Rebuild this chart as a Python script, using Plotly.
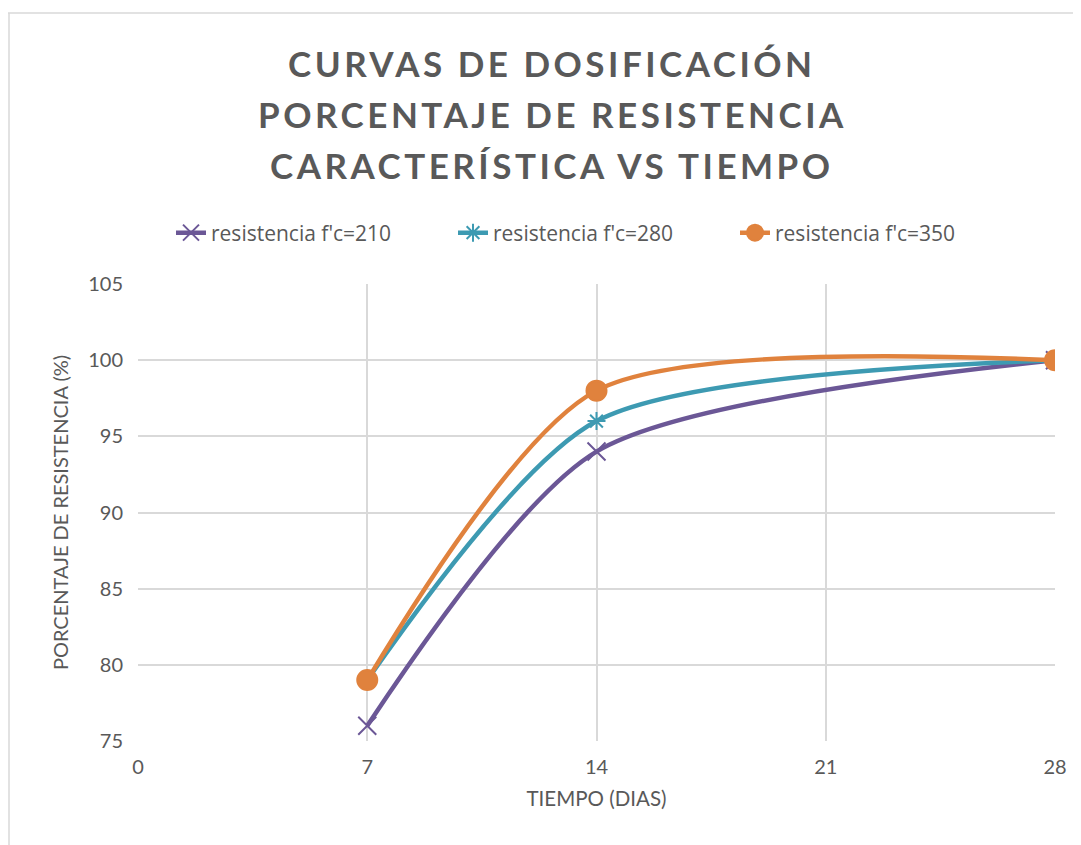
import plotly.graph_objects as go

dias = [7, 14, 28]
r210 = [76, 94, 100]
r280 = [79, 96, 100]
r350 = [79, 98, 100]
x_ticks = [0, 7, 14, 21, 28]
y_ticks = [75, 80, 85, 90, 95, 100, 105]
title_lines = ["CURVAS DE DOSIFICACIÓN", "PORCENTAJE DE RESISTENCIA",
               "CARACTERÍSTICA VS TIEMPO"]

# page body has an 8px margin, so figure coords = screen coords - 8
OFF = 8
W, H = 1081 - OFF, 845 - OFF
L, R, T, B = 138 - OFF, 1081 - 1055, 284 - OFF, 845 - 741
pw, ph = W - L - R, H - T - B

FONT = "Lato, Open Sans, sans-serif"
GRAY = "#595959"

def px_x(sx):
    return (sx - OFF - L) / pw

def px_y(sy):
    return 1 + (T - (sy - OFF)) / ph

fig = go.Figure()
series = [
    ("resistencia f'c=210", r210, "#6B5796", "x-thin", 18),
    ("resistencia f'c=280", r280, "#3D9AB2", "asterisk", 15),
    ("resistencia f'c=350", r350, "#E0823D", "circle", 20),
]
for name, vals, col, sym, sz in series:
    fig.add_trace(go.Scatter(
        x=dias, y=vals, name=name, mode="lines+markers",
        line=dict(color=col, width=4.5, shape="spline", smoothing=0.75),
        marker=dict(symbol=sym, size=sz, color=col, line=dict(color=col, width=2)),
    ))

for i, (line, sy) in enumerate(zip(title_lines, [63, 114, 165])):
    fig.add_annotation(
        text='<span style="letter-spacing:3.5px">' + line + '</span>',
        xref="paper", yref="paper", x=px_x(552), y=px_y(sy),
        xanchor="center", yanchor="middle", showarrow=False,
        font=dict(family=FONT, size=35, color=GRAY, weight="bold"),
    )

fig.update_layout(
    width=W, height=H,
    margin=dict(l=L, r=R, t=T, b=B),
    paper_bgcolor="white", plot_bgcolor="white",
    font=dict(family=FONT, color=GRAY),
    legend=dict(
        orientation="h", x=px_x(171), xanchor="left", xref="paper",
        y=px_y(233), yanchor="middle",
        font=dict(family="Open Sans, sans-serif", size=21, color=GRAY),
        tracegroupgap=0, entrywidth=237, entrywidthmode="pixels",
    ),
    showlegend=True,
)
fig.update_xaxes(
    range=[0, 28], tickvals=x_ticks, ticktext=[str(v) for v in x_ticks],
    showgrid=True, gridcolor="#D9D9D9", gridwidth=1.5, zeroline=False,
    showline=False, ticks="", tickfont=dict(size=20, color=GRAY),
    ticklabelstandoff=12,
    title=dict(text="TIEMPO (DIAS)", font=dict(size=20.5, color=GRAY), standoff=14),
)
fig.update_yaxes(
    range=[75, 105], tickvals=y_ticks, ticktext=[str(v) for v in y_ticks],
    showgrid=True, gridcolor="#D9D9D9", gridwidth=1.5, zeroline=False,
    showline=False, ticks="", tickfont=dict(size=20, color=GRAY),
    ticklabelstandoff=14,
    title=dict(text="PORCENTAJE DE RESISTENCIA (%)", font=dict(size=20, color=GRAY), standoff=14),
)
# chart outer border (Excel chart area)
fig.add_shape(type="line", xref="paper", yref="paper",
              x0=px_x(8), x1=px_x(1095), y0=px_y(13), y1=px_y(13),
              line=dict(color="#D9D9D9", width=1.5))
fig.add_shape(type="line", xref="paper", yref="paper",
              x0=px_x(9), x1=px_x(9), y0=px_y(13), y1=px_y(860),
              line=dict(color="#D9D9D9", width=1.5))

fig.write_html("out.html")
